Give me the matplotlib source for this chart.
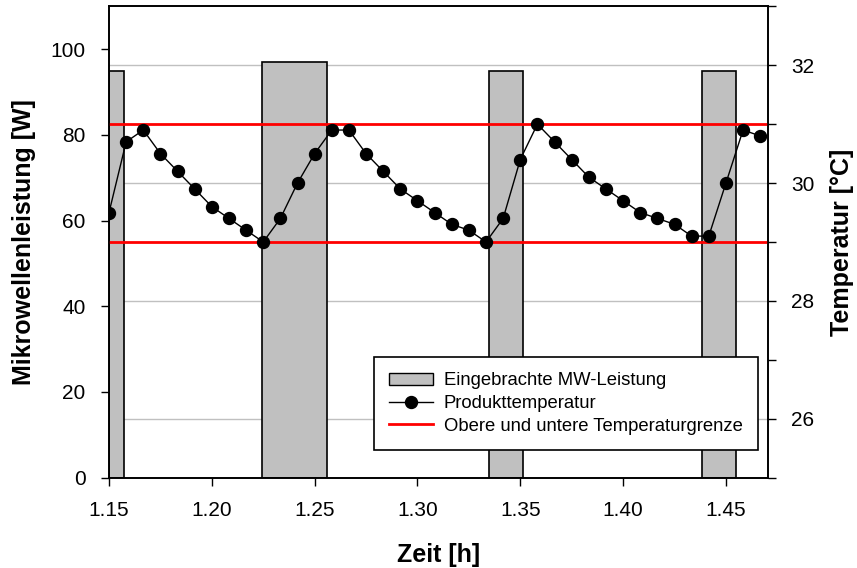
import matplotlib
matplotlib.use("Agg")
import matplotlib.pyplot as plt
import matplotlib.transforms as mtransforms
from matplotlib.patches import Patch
from matplotlib.lines import Line2D

plt.rcParams['font.family'] = ['Liberation Sans', 'DejaVu Sans']

# ---- data ----
bar_start = [1.1500, 1.2246, 1.3348, 1.4384]   # h
bar_end = [1.1571, 1.2559, 1.3512, 1.4551]     # h
bar_power = [95, 97, 95, 95]                   # W

t0 = 1.15
dt = 0.008333
temps = [29.5, 30.7, 30.9, 30.5, 30.2, 29.9, 29.6, 29.4, 29.2, 29.0,
         29.4, 30.0, 30.5, 30.9, 30.9, 30.5, 30.2, 29.9, 29.7, 29.5,
         29.3, 29.2, 29.0, 29.4, 30.4, 31.0, 30.7, 30.4, 30.1, 29.9,
         29.7, 29.5, 29.4, 29.3, 29.1, 29.1, 30.0, 30.9, 30.8]
times = [t0 + i * dt for i in range(len(temps))]

temp_limits = [29, 31]
x_ticks = [1.15, 1.20, 1.25, 1.30, 1.35, 1.40, 1.45]
left_ticks = [0, 20, 40, 60, 80, 100]
right_ticks = [26, 28, 30, 32]
right_minor = [25, 27, 29, 31, 33]

fig = plt.figure(figsize=(8.57, 5.68), dpi=100)
ax = fig.add_axes([0.1272, 0.159, 0.7686, 0.8299])
ax2 = ax.twinx()

ax.set_xlim(1.15, 1.4703)
ax.set_ylim(0, 110)
ax2.set_ylim(25, 33)

# grid lines from right axis, behind bars
blend = mtransforms.blended_transform_factory(ax.transAxes, ax2.transData)
for v in right_ticks:
    ax.plot([0, 1], [v, v], color='#c0c0c0', lw=1.0, transform=blend, zorder=0.5)

widths = [e - s for s, e in zip(bar_start, bar_end)]
ax.bar(bar_start, bar_power, width=widths, align='edge', color='#c0c0c0',
       edgecolor='black', linewidth=1.2, zorder=2)

for v in temp_limits:
    ax2.axhline(v, color='red', lw=2.0, zorder=2)
ax2.plot(times, temps, color='black', lw=1.0, marker='o', markersize=8.6,
         markerfacecolor='black', markeredgecolor='black', zorder=3)

ax.set_xticks(x_ticks)
ax.set_xticklabels([f"{v:.2f}" for v in x_ticks])
ax.set_yticks(left_ticks)
ax2.set_yticks(right_ticks)
ax2.set_yticks(right_minor, minor=True)

for a in (ax, ax2):
    a.tick_params(axis='both', which='major', direction='out', length=6,
                  width=1.0, labelsize=15)
    a.tick_params(axis='both', which='minor', direction='out', length=6, width=1.0)
    for s in a.spines.values():
        s.set_linewidth(1.2)
ax.tick_params(axis='x', pad=11)
ax.tick_params(axis='y', pad=11)
ax2.tick_params(axis='y', pad=11)

ax.set_xlabel('Zeit [h]', fontsize=18, fontweight='bold', labelpad=16)
ax.set_ylabel('Mikrowellenleistung [W]', fontsize=18, fontweight='bold', labelpad=10)
ax2.set_ylabel('Temperatur [°C]', fontsize=18, fontweight='bold', labelpad=11)

handles = [Patch(facecolor='#c0c0c0', edgecolor='black', linewidth=1.0),
           Line2D([], [], color='black', lw=1.0, marker='o', markersize=8.6),
           Line2D([], [], color='red', lw=2.0)]
labels = ['Eingebrachte MW-Leistung', 'Produkttemperatur',
          'Obere und untere Temperaturgrenze']
leg = ax2.legend(handles, labels, loc='lower right', bbox_to_anchor=(0.985, 0.059),
                 fontsize=13.3, frameon=True, fancybox=False, edgecolor='black',
                 framealpha=1, handlelength=2.4, handletextpad=0.55,
                 labelspacing=0.3, borderpad=0.83, borderaxespad=0)
leg.get_frame().set_linewidth(1.2)
leg.set_zorder(5)

fig.savefig('out.png', dpi=100)
